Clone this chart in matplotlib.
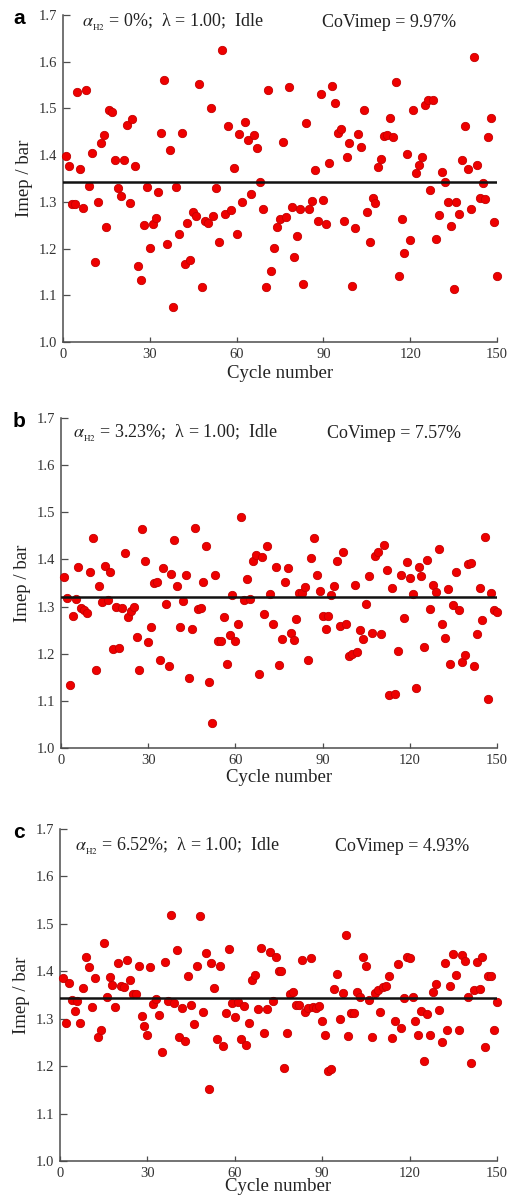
import matplotlib
matplotlib.use("Agg")
import matplotlib.pyplot as plt

plt.rcParams['font.family'] = ['Liberation Serif', 'DejaVu Serif']
plt.rcParams['mathtext.fontset'] = 'stix'

cycles = list(range(1, 151))

imep_a = [1.399, 1.376, 1.296, 1.296, 1.536, 1.370, 1.287, 1.540, 1.335, 1.405,
          1.172, 1.300, 1.427, 1.443, 1.247, 1.497, 1.493, 1.390, 1.330, 1.313,
          1.390, 1.465, 1.298, 1.477, 1.377, 1.162, 1.132, 1.251, 1.331, 1.201,
          1.253, 1.265, 1.321, 1.447, 1.560, 1.210, 1.410, 1.075, 1.331, 1.232,
          1.447, 1.168, 1.255, 1.176, 1.278, 1.270, 1.553, 1.118, 1.258, 1.255,
          1.500, 1.270, 1.330, 1.213, 1.625, 1.273, 1.463, 1.282, 1.373, 1.232,
          1.446, 1.300, 1.470, 1.433, 1.316, 1.443, 1.415, 1.342, 1.285, 1.118,
          1.540, 1.153, 1.202, 1.247, 1.263, 1.429, 1.267, 1.545, 1.289, 1.182,
          1.226, 1.284, 1.125, 1.468, 1.284, 1.301, 1.368, 1.259, 1.531, 1.304,
          1.252, 1.384, 1.549, 1.512, 1.448, 1.455, 1.259, 1.396, 1.425, 1.120,
          1.243, 1.446, 1.418, 1.496, 1.279, 1.214, 1.308, 1.298, 1.375, 1.391,
          1.441, 1.444, 1.480, 1.438, 1.556, 1.141, 1.264, 1.191, 1.402, 1.219,
          1.496, 1.361, 1.379, 1.396, 1.507, 1.519, 1.326, 1.518, 1.221, 1.271,
          1.364, 1.343, 1.299, 1.249, 1.114, 1.299, 1.275, 1.389, 1.462, 1.370,
          1.284, 1.611, 1.379, 1.309, 1.341, 1.306, 1.439, 1.480, 1.257, 1.142]

imep_b = [1.363, 1.319, 1.133, 1.280, 1.317, 1.384, 1.298, 1.293, 1.287, 1.373,
          1.445, 1.166, 1.343, 1.310, 1.386, 1.315, 1.373, 1.210, 1.299, 1.213,
          1.298, 1.414, 1.278, 1.290, 1.299, 1.235, 1.165, 1.464, 1.397, 1.225,
          1.257, 1.349, 1.353, 1.186, 1.382, 1.306, 1.174, 1.370, 1.442, 1.344,
          1.257, 1.312, 1.368, 1.148, 1.253, 1.467, 1.295, 1.298, 1.353, 1.428,
          1.140, 1.053, 1.366, 1.226, 1.227, 1.278, 1.178, 1.240, 1.324, 1.228,
          1.262, 1.489, 1.315, 1.359, 1.317, 1.396, 1.410, 1.158, 1.405, 1.284,
          1.428, 1.327, 1.262, 1.384, 1.177, 1.232, 1.353, 1.382, 1.245, 1.230,
          1.274, 1.329, 1.329, 1.341, 1.187, 1.403, 1.445, 1.368, 1.332, 1.280,
          1.253, 1.280, 1.324, 1.344, 1.396, 1.258, 1.416, 1.264, 1.196, 1.200,
          1.345, 1.204, 1.250, 1.232, 1.306, 1.364, 1.245, 1.407, 1.416, 1.242,
          1.430, 1.377, 1.113, 1.339, 1.115, 1.205, 1.368, 1.276, 1.394, 1.361,
          1.327, 1.127, 1.384, 1.365, 1.214, 1.399, 1.295, 1.346, 1.331, 1.423,
          1.264, 1.234, 1.338, 1.179, 1.304, 1.373, 1.293, 1.182, 1.198, 1.391,
          1.392, 1.175, 1.242, 1.339, 1.271, 1.448, 1.103, 1.329, 1.292, 1.288]

imep_c = [1.385, 1.290, 1.375, 1.339, 1.317, 1.338, 1.292, 1.364, 1.430, 1.408,
          1.325, 1.385, 1.262, 1.277, 1.459, 1.346, 1.387, 1.371, 1.325, 1.417,
          1.368, 1.366, 1.423, 1.382, 1.352, 1.352, 1.411, 1.306, 1.285, 1.265,
          1.408, 1.332, 1.341, 1.308, 1.230, 1.419, 1.338, 1.518, 1.334, 1.444,
          1.262, 1.322, 1.254, 1.391, 1.329, 1.288, 1.412, 1.516, 1.315, 1.438,
          1.151, 1.417, 1.364, 1.258, 1.412, 1.242, 1.313, 1.446, 1.334, 1.304,
          1.336, 1.258, 1.327, 1.244, 1.292, 1.382, 1.392, 1.320, 1.449, 1.269,
          1.320, 1.440, 1.337, 1.431, 1.400, 1.400, 1.197, 1.270, 1.352, 1.357,
          1.329, 1.329, 1.424, 1.315, 1.322, 1.428, 1.325, 1.322, 1.327, 1.296,
          1.265, 1.190, 1.195, 1.362, 1.394, 1.300, 1.355, 1.477, 1.264, 1.313,
          1.313, 1.357, 1.345, 1.430, 1.412, 1.340, 1.262, 1.355, 1.360, 1.315,
          1.366, 1.370, 1.390, 1.260, 1.295, 1.416, 1.280, 1.343, 1.430, 1.428,
          1.345, 1.296, 1.265, 1.317, 1.210, 1.310, 1.265, 1.357, 1.373, 1.318,
          1.250, 1.418, 1.277, 1.370, 1.436, 1.393, 1.277, 1.435, 1.422, 1.345,
          1.206, 1.360, 1.420, 1.363, 1.430, 1.240, 1.390, 1.390, 1.276, 1.336]

means = [1.342, 1.320, 1.343]
letters = ['a', 'b', 'c']
h2_labels = ['0%', '3.23%', '6.52%']
cov_labels = ['CoVimep = 9.97%', 'CoVimep = 7.57%', 'CoVimep = 4.93%']
series = [imep_a, imep_b, imep_c]

W, H = 509, 1202
fig = plt.figure(figsize=(W / 100, H / 100), dpi=100)

# axes boxes in pixels: left, right, top(1.7), bottom(1.0)
boxes = [(63, 497, 15, 342), (61, 497, 418, 748), (60, 497, 829, 1161)]
alpha_x = [82, 73, 75]
cov_x = [322, 327, 335]
text_y = [0.976, 0.952, 0.946]
xlab_pad = [3, 2, -1]

for i, (l, r, t, b) in enumerate(boxes):
    ax = fig.add_axes([l / W, 1 - b / H, (r - l) / W, (b - t) / H])
    ax.scatter(cycles, series[i], s=36, color='#ee0000', edgecolors='#c40000',
               linewidths=0.6, zorder=3, clip_on=False)
    ax.axhline(means[i], color='#111111', lw=1.8, zorder=4)
    ax.set_xlim(0, 150)
    ax.set_ylim(1.0, 1.7)
    ax.set_xticks([0, 30, 60, 90, 120, 150])
    ax.set_yticks([1.0, 1.1, 1.2, 1.3, 1.4, 1.5, 1.6, 1.7])
    ax.yaxis.set_major_formatter(matplotlib.ticker.FormatStrFormatter('%.1f'))
    for s in ['top', 'right']:
        ax.spines[s].set_visible(False)
    for s in ['left', 'bottom']:
        ax.spines[s].set_color('#4d4d4d')
        ax.spines[s].set_linewidth(1.1)
    ax.tick_params(direction='in', width=0.9, color='#4d4d4d',
                   labelsize=10.5, labelcolor='#333333', pad=4)
    ax.tick_params(axis='y', length=5)
    ax.tick_params(axis='x', length=3.5)
    ax.set_ylabel('Imep / bar', fontsize=13.5, color='#222222', labelpad=4)
    ax.set_xlabel('Cycle number', fontsize=13.5, color='#222222',
                  labelpad=xlab_pad[i])
    ax.text((13 - l) / (r - l), 0.99, letters[i], transform=ax.transAxes,
            fontsize=15, fontweight='bold',
            family=['Liberation Sans', 'DejaVu Sans'], va='center', ha='left')
    ax.text((alpha_x[i] - l) / (r - l), text_y[i],
            r'$\alpha_{_{\mathrm{H2}}}$' + ' = ' + h2_labels[i] +
            ';  \u03bb = 1.00;  Idle', transform=ax.transAxes, fontsize=13,
            color='#222222', va='center', ha='left')
    ax.text((cov_x[i] - l) / (r - l), text_y[i], cov_labels[i],
            transform=ax.transAxes, fontsize=13, color='#222222',
            va='center', ha='left')

fig.savefig('out.png', dpi=100)
